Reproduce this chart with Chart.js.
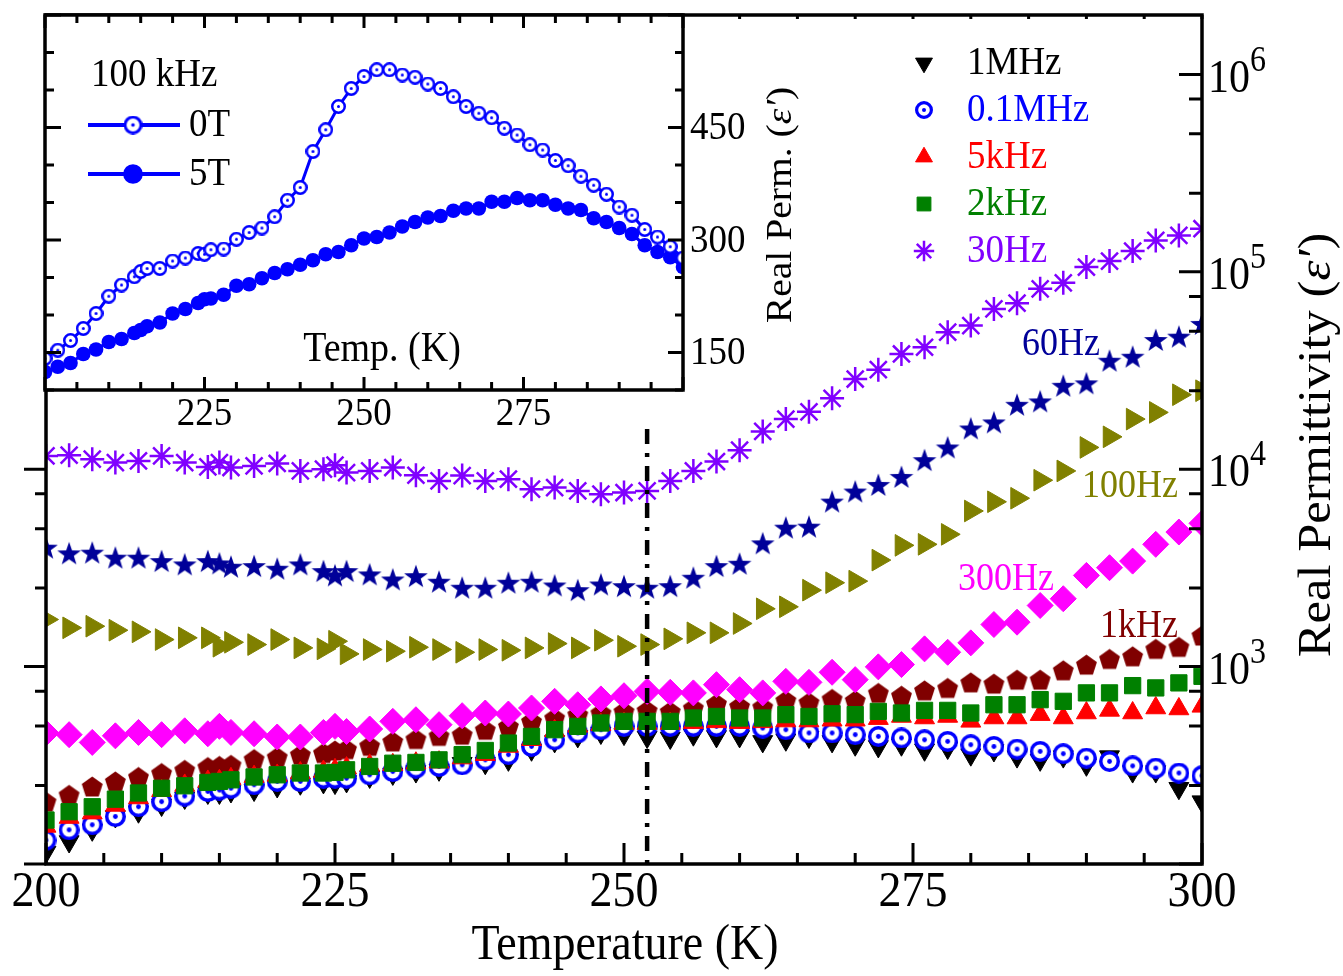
<!DOCTYPE html>
<html>
<head>
<meta charset="utf-8">
<script src="https://cdn.jsdelivr.net/npm/chart.js"></script>
<style>
  html, body { margin: 0; padding: 0; background: #fff; }
  #wrap { position: relative; width: 1343px; height: 976px; }
  #wrap canvas { position: absolute; left: 0; top: 0; }
</style>
</head>
<body>
<div id="wrap">
  <canvas id="main" width="1343" height="976"></canvas>
  <canvas id="inset" width="1343" height="976"></canvas>
</div>
<script>
// temperatures (K), shared by every series
const tempK = [200,202,204,206,208,210,212,214,215,216,218,220,222,224,225,226,228,230,232,234,236,238,240,242,244,246,248,250,
  252,254,256,258,260,262,264,266,268,270,272,274,276,278,280,282,284,286,288,290,292,294,296,298,300];

// real permittivity, main plot (log axis)
const eps30Hz = [11680,11780,11240,10810,11020,11680,10810,10270,10810,10200,10390,10690,9800,10000,10480,9620,9800,10200,9320,8720,9290,8720,8900,7920,8070,7760,7470,7620,
  7760,8720,9800,10940,12490,15540,17940,19540,22860,28640,31920,38350,41480,49430,53390,64890,69360,81960,87950,105660,113320,127350,144200,152900,165300];
const eps60Hz = [4004,3747,3778,3563,3563,3423,3295,3423,3333,3207,3230,3133,3295,3046,2897,3046,2931,2764,2873,2692,2509,2509,2660,2692,2577,2439,2607,2556,
  2509,2556,2820,3230,3321,4211,5058,5117,6855,7705,8325,9140,11110,12890,16090,17260,21210,22060,26470,27230,35450,37150,45150,46950,54450];
const eps100Hz = [1732,1572,1602,1529,1500,1371,1399,1399,1268,1328,1293,1371,1244,1230,1344,1160,1220,1196,1253,1220,1182,1220,1210,1244,1308,1244,1360,1268,
  1293,1382,1483,1483,1653,1963,2009,2439,2660,2710,3464,4114,4163,4677,6143,6839,7126,8795,9800,12890,14590,17940,19400,23840,24980];
const eps300Hz = [461,452,413,446,464,452,473,457,498,464,457,440,440,464,498,469,483,528,538,508,564,582,575,617,667,641,686,712,
  749,741,736,810,764,736,842,832,936,859,997,1024,1230,1182,1319,1634,1679,2040,2207,2897,3170,3423,4163,4806,5320];
const eps1kHz = [207,224,247,262,276,289,300,310,314,318,340,348,358,365,376,382,397,418,430,446,452,479,498,528,549,571,582,593,
  600,593,617,649,629,624,674,659,686,674,736,712,758,780,832,820,859,859,958,1024,1094,1128,1230,1259,1437];
const eps2kHz = [167,184,195,213,229,242,249,259,262,267,276,283,289,289,291,300,312,324,327,337,358,376,410,443,479,498,518,528,
  528,528,549,559,549,549,571,559,577,571,593,582,600,600,582,641,641,680,667,736,736,801,780,827,893];
const eps5kHz = [155,172,181,198,216,235,250,262,264,270,277,281,289,294,300,306,316,318,324,328,344,358,394,426,473,498,508,515,
  515,515,520,525,520,525,530,530,535,535,545,559,549,559,528,549,549,571,549,582,600,582,617,610,629];
const eps100kHz = [132,149,158,174,195,207,221,233,237,242,252,262,262,272,272,272,283,294,306,312,318,337,358,394,426,461,479,498,
  498,498,498,498,498,488,479,461,461,452,443,435,426,418,402,394,382,372,362,344,331,314,306,289,280];
const eps1MHz = [115,130,149,174,184,199,216,229,229,233,237,247,255,259,257,262,276,286,294,300,324,324,337,379,418,443,461,455,
  440,435,452,443,443,418,426,440,418,402,394,402,379,387,358,376,350,337,350,318,350,294,294,242,207];

// inset, 100 kHz, real permittivity at 0 T and 5 T
const inset0T = [142,153,166,182,202,225,240,251,258,262,262,272,276,282,281,287,288,301,310,316,331,353,370,418,447,478,502,518,
  527,527,520,517,508,502,491,478,469,463,449,440,427,420,406,399,385,373,361,344,333,314,304,291,276];
const inset5T = [124,131,136,148,154,164,168,176,180,185,190,202,208,216,221,222,227,239,241,249,256,261,267,273,281,284,293,302,
  304,310,318,324,330,332,339,342,342,351,351,356,353,353,347,342,340,329,324,316,308,293,284,277,264];

// axes / ticks
const xTickLabels = [200, 225, 250, 275, 300];
const yDecades = [1000, 10000, 100000, 1000000];
const insetXLabels = [225, 250, 275];
const insetYLabels = [150, 300, 450];
const legendLabels = ['1MHz', '0.1MHz', '5kHz', '2kHz', '30Hz'];
const tcLine = { temp: 252, top: 16000 };

const SERIF = '"Liberation Serif", "Times New Roman", serif';
const STRETCH = 1.1;

const BLUE = '#0000ff', RED = '#ff0000', GREEN = '#008000', VIOLET = '#8000ff',
  NAVY = '#000099', OLIVE = '#808000', MAGENTA = '#ff00ff', MAROON = '#800000';

function pts(arr) {
  return tempK.map((t, i) => ({ x: t, y: arr[i] }));
}

// marker pictures for the shapes Chart.js has no built-in style for
function ring(d, lw, dot, color) {
  const c = document.createElement('canvas');
  c.width = c.height = d;
  const g = c.getContext('2d');
  g.beginPath();
  g.arc(d / 2, d / 2, d / 2 - lw / 2, 0, Math.PI * 2);
  g.fillStyle = '#fff';
  g.fill();
  g.lineWidth = lw;
  g.strokeStyle = color;
  g.stroke();
  g.beginPath();
  g.arc(d / 2, d / 2, dot, 0, Math.PI * 2);
  g.fillStyle = color;
  g.fill();
  return c;
}

function poly(d, n, inner, color) {
  const c = document.createElement('canvas');
  c.width = c.height = d;
  const g = c.getContext('2d');
  const R = d / 2 - 0.5, k = inner ? 2 * n : n;
  g.beginPath();
  for (let i = 0; i < k; i++) {
    const r = inner && i % 2 ? R * inner : R;
    const a = -Math.PI / 2 + i * Math.PI * 2 / k;
    const px = d / 2 + r * Math.cos(a), py = d / 2 + 1 + r * Math.sin(a);
    if (i === 0) g.moveTo(px, py); else g.lineTo(px, py);
  }
  g.closePath();
  g.fillStyle = color;
  g.fill();
  return c;
}

const ringMain = ring(21, 3.5, 2.4, BLUE);
const ringLegend = ring(18, 3.2, 2, BLUE);
const ringInset = ring(15, 2.5, 1.5, BLUE);
const ringInsetLegend = ring(19, 3, 1.8, BLUE);
const starNavy = poly(26, 5, 0.4, NAVY);
const pentMaroon = poly(23, 5, 0, MAROON);

function series(label, arr, color, style, radius, extra) {
  return Object.assign({
    label: label,
    data: pts(arr),
    showLine: false,
    pointStyle: style,
    pointRadius: radius,
    pointBackgroundColor: color,
    pointBorderColor: color,
    pointBorderWidth: 1,
    backgroundColor: color,
    borderColor: color,
    clip: 0
  }, extra || {});
}

function drawText(ctx, parts, x, y, o) {
  o = o || {};
  ctx.save();
  ctx.translate(x, y);
  if (o.rotate) { ctx.rotate(-Math.PI / 2); ctx.scale(STRETCH, 1); }
  else ctx.scale(1, STRETCH);
  ctx.fillStyle = o.color || '#000';
  ctx.textBaseline = 'middle';
  ctx.textAlign = 'left';
  const fontOf = (p) => (p.it ? 'italic ' : '') + p.px + 'px ' + SERIF;
  const w = parts.map((p) => { ctx.font = fontOf(p); return ctx.measureText(p.s).width; });
  const total = w.reduce((s, v) => s + v, 0);
  let cx = o.align === 'center' ? -total / 2 : (o.align === 'right' ? -total : 0);
  parts.forEach((p, i) => {
    ctx.font = fontOf(p);
    ctx.fillText(p.s, cx, (p.dy || 0) / STRETCH);
    cx += w[i];
  });
  ctx.restore();
}
const T = (s, px, extra) => Object.assign({ s: s, px: px }, extra || {});

function marker(ctx, ds, x, y, scale, image) {
  if (image) {
    ctx.drawImage(image, x - image.width / 2, y - image.height / 2);
    return;
  }
  ctx.save();
  ctx.fillStyle = ds.pointBackgroundColor;
  ctx.strokeStyle = ds.pointBorderColor;
  ctx.lineWidth = ds.pointBorderWidth;
  Chart.helpers.drawPoint(ctx, {
    pointStyle: ds.pointStyle,
    rotation: ds.pointRotation || 0,
    radius: ds.pointRadius * (scale || 1),
    borderWidth: ds.pointBorderWidth
  }, x, y);
  ctx.restore();
}

const mainDeco = {
  id: 'mainDeco',
  afterDraw(chart) {
    const ctx = chart.ctx, a = chart.chartArea;
    const xs = chart.scales.x, ys = chart.scales.y;
    ctx.save();
    ctx.strokeStyle = '#000';
    ctx.lineWidth = 3;
    ctx.beginPath();
    for (let t = 200; t <= 300; t += 5) {
      const x = xs.getPixelForValue(t), major = t % 25 === 0;
      ctx.moveTo(x, a.bottom);
      ctx.lineTo(x, a.bottom - (major ? 21 : 11));
      if (x > 690) { ctx.moveTo(x, a.top); ctx.lineTo(x, a.top + 4); }
    }
    for (let d = 100; d <= 1e6; d *= 10) {
      [1, 2.5, 5, 7.5].forEach((m) => {
        const v = d * m;
        if (v > ys.max) return;
        const y = ys.getPixelForValue(v), major = m === 1;
        ctx.moveTo(a.right, y);
        ctx.lineTo(a.right - (major ? 23 : 13), y);
        if (y > 392) { ctx.moveTo(a.left, y); ctx.lineTo(a.left - (major ? 22 : 11), y); }
      });
    }
    ctx.stroke();
    ctx.lineWidth = 3.5;
    ctx.strokeRect(a.left, a.top, a.right - a.left, a.bottom - a.top);
    ctx.restore();

    xTickLabels.forEach((t) => {
      drawText(ctx, [T(String(t), 46)], xs.getPixelForValue(t), 893, { align: 'center' });
    });
    yDecades.forEach((v) => {
      const y = ys.getPixelForValue(v);
      drawText(ctx, [T('10', 42), T(String(Math.round(Math.log10(v))), 32, { dy: -18 })], a.right + 6, y + 5);
    });
    drawText(ctx, [T('Temperature (K)', 46)], 625, 946, { align: 'center' });
    drawText(ctx, [T('Real Permittivity (', 46), T('\u03b5\u2032', 46, { it: true }), T(')', 46)],
      1318, 445, { align: 'center', rotate: true });

    // legend
    legendLabels.forEach((lab, i) => {
      const ds = chart.data.datasets.find((d) => d.label === lab);
      const y = 63 + i * 47;
      marker(ctx, ds, 924, y, 0.85, lab === '0.1MHz' ? ringLegend : null);
      drawText(ctx, [T(lab, 37)], 967, y, { color: ds.pointBorderColor });
    });

    // curve labels
    drawText(ctx, [T('60Hz', 36)], 1022, 345, { color: NAVY });
    drawText(ctx, [T('100Hz', 36)], 1082, 487, { color: OLIVE });
    drawText(ctx, [T('300Hz', 36)], 958, 580, { color: MAGENTA });
    drawText(ctx, [T('1kHz', 36)], 1100, 627, { color: MAROON });
  }
};

new Chart(document.getElementById('main'), {
  type: 'scatter',
  data: {
    datasets: [
      {
        label: 'Tc',
        data: [{ x: tcLine.temp, y: tcLine.top }, { x: tcLine.temp, y: 100 }],
        showLine: true,
        borderColor: '#000',
        borderWidth: 4.5,
        borderDash: [15, 9, 4, 9],
        pointRadius: 0,
        clip: 0
      },
      series('30Hz', eps30Hz, VIOLET, 'star', 12, { pointBorderWidth: 2.5 }),
      series('60Hz', eps60Hz, NAVY, starNavy, 12),
      series('100Hz', eps100Hz, OLIVE, 'triangle', 12.5, { pointRotation: 90 }),
      series('300Hz', eps300Hz, MAGENTA, 'rectRot', 13),
      series('2kHz', eps2kHz, GREEN, 'rect', 11.5),
      series('5kHz', eps5kHz, RED, 'triangle', 11.5),
      series('0.1MHz', eps100kHz, BLUE, ringMain, 10, { pointBorderWidth: 0 }),
      series('1MHz', eps1MHz, '#000', 'triangle', 11.5, { pointRotation: 180 }),
      series('1kHz', eps1kHz, MAROON, pentMaroon, 11)
    ]
  },
  options: {
    responsive: false,
    animation: false,
    devicePixelRatio: 1,
    layout: { padding: { left: 46, right: 141, top: 15, bottom: 112 } },
    plugins: { legend: { display: false }, tooltip: { enabled: false } },
    scales: {
      x: { type: 'linear', min: 200, max: 300, display: false },
      y: { type: 'logarithmic', min: 100, max: 2e6, display: false }
    }
  },
  plugins: [mainDeco]
});

const insetDeco = {
  id: 'insetDeco',
  beforeDatasetsDraw(chart) {
    const ctx = chart.ctx, a = chart.chartArea;
    ctx.save();
    ctx.fillStyle = '#fff';
    ctx.fillRect(a.left, a.top, a.right - a.left, a.bottom - a.top);
    ctx.restore();
  },
  afterDraw(chart) {
    const ctx = chart.ctx, a = chart.chartArea;
    const xs = chart.scales.x, ys = chart.scales.y;
    ctx.save();
    ctx.strokeStyle = '#000';
    ctx.lineWidth = 3;
    ctx.beginPath();
    for (let t = 200; t <= 300; t += 5) {
      const x = xs.getPixelForValue(t), major = t % 25 === 0;
      ctx.moveTo(x, a.bottom); ctx.lineTo(x, a.bottom - (major ? 13 : 8));
      ctx.moveTo(x, a.top); ctx.lineTo(x, a.top + (major ? 13 : 8));
    }
    for (let v = 100; v <= 600; v += 50) {
      const y = ys.getPixelForValue(v), major = v % 150 === 0;
      ctx.moveTo(a.left, y); ctx.lineTo(a.left + (major ? 16 : 9), y);
      ctx.moveTo(a.right, y); ctx.lineTo(a.right - (major ? 15 : 8), y);
    }
    ctx.stroke();
    ctx.lineWidth = 3.5;
    ctx.strokeRect(a.left, a.top, a.right - a.left, a.bottom - a.top);
    ctx.restore();

    insetXLabels.forEach((t) => {
      drawText(ctx, [T(String(t), 37)], xs.getPixelForValue(t), 414, { align: 'center' });
    });
    insetYLabels.forEach((v) => {
      drawText(ctx, [T(String(v), 37)], a.right + 7, ys.getPixelForValue(v) + 1);
    });
    drawText(ctx, [T('Temp. (K)', 38)], 382, 350, { align: 'center' });
    drawText(ctx, [T('Real Perm. (', 36), T('\u03b5\u2032', 36, { it: true }), T(')', 36)],
      782, 205, { align: 'center', rotate: true });

    // legend
    drawText(ctx, [T('100 kHz', 37)], 91, 75);
    chart.data.datasets.forEach((ds, i) => {
      const y = 125 + i * 49;
      ctx.save();
      ctx.strokeStyle = ds.borderColor;
      ctx.lineWidth = 4;
      ctx.beginPath();
      ctx.moveTo(88, y); ctx.lineTo(180, y);
      ctx.stroke();
      ctx.restore();
      marker(ctx, ds, 133, y, 1.35, i === 0 ? ringInsetLegend : null);
      drawText(ctx, [T(ds.label, 37)], 189, y);
    });
  }
};

new Chart(document.getElementById('inset'), {
  type: 'scatter',
  data: {
    datasets: [
      series('0T', inset0T, BLUE, ringInset, 7.5, { showLine: true, borderWidth: 3, pointBorderWidth: 0 }),
      series('5T', inset5T, BLUE, 'circle', 7.3, { showLine: true, borderWidth: 3, pointBorderWidth: 0 })
    ]
  },
  options: {
    responsive: false,
    animation: false,
    devicePixelRatio: 1,
    layout: { padding: { left: 45, right: 660, top: 15, bottom: 586 } },
    plugins: { legend: { display: false }, tooltip: { enabled: false } },
    scales: {
      x: { type: 'linear', min: 200, max: 300, display: false },
      y: { type: 'linear', min: 100, max: 600, display: false }
    }
  },
  plugins: [insetDeco]
});
</script>
</body>
</html>
